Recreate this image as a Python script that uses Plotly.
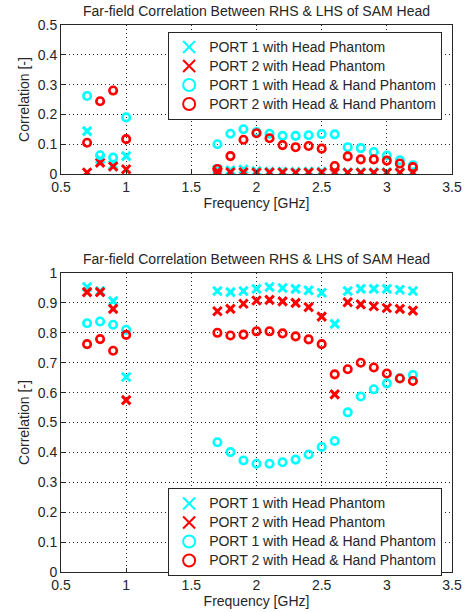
import plotly.graph_objects as go

freq = [0.7, 0.8, 0.9, 1.0, 1.7, 1.8, 1.9, 2.0, 2.1, 2.2, 2.3, 2.4, 2.5, 2.6, 2.7, 2.8, 2.9, 3.0, 3.1, 3.2]

# Top subplot (weak correlation values)
top_p1_head = [0.144, 0.050, 0.030, 0.060, 0.015, 0.012, 0.015, 0.010, 0.008, 0.008, 0.007, 0.008, 0.008, 0.008, 0.006, 0.006, 0.006, 0.006, 0.006, 0.006]
top_p2_head = [0.005, 0.038, 0.025, 0.016, 0.008, 0.006, 0.006, 0.005, 0.005, 0.005, 0.004, 0.005, 0.005, 0.004, 0.004, 0.004, 0.004, 0.004, 0.004, 0.004]
top_p1_hand = [0.262, 0.063, 0.055, 0.190, 0.100, 0.135, 0.150, 0.141, 0.135, 0.128, 0.128, 0.130, 0.134, 0.133, 0.090, 0.087, 0.074, 0.062, 0.046, 0.029]
top_p2_hand = [0.105, 0.244, 0.280, 0.117, 0.017, 0.060, 0.115, 0.137, 0.120, 0.097, 0.090, 0.094, 0.085, 0.027, 0.059, 0.049, 0.049, 0.045, 0.035, 0.023]

# Bottom subplot
bot_p1_head = [0.953, 0.940, 0.906, 0.652, 0.940, 0.936, 0.940, 0.947, 0.953, 0.950, 0.947, 0.942, 0.934, 0.830, 0.940, 0.947, 0.947, 0.947, 0.944, 0.940]
bot_p2_head = [0.936, 0.936, 0.880, 0.575, 0.872, 0.880, 0.897, 0.908, 0.910, 0.905, 0.900, 0.886, 0.854, 0.594, 0.902, 0.895, 0.889, 0.883, 0.880, 0.874]
bot_p1_hand = [0.832, 0.838, 0.827, 0.810, 0.434, 0.401, 0.373, 0.362, 0.362, 0.367, 0.376, 0.393, 0.418, 0.438, 0.534, 0.587, 0.611, 0.631, 0.648, 0.659]
bot_p2_hand = [0.762, 0.779, 0.740, 0.793, 0.800, 0.791, 0.794, 0.805, 0.805, 0.798, 0.788, 0.778, 0.762, 0.661, 0.678, 0.700, 0.684, 0.664, 0.647, 0.639]

names = ["PORT 1 with Head Phantom", "PORT 2 with Head Phantom",
         "PORT 1 with Head & Hand Phantom", "PORT 2 with Head & Hand Phantom"]
title_text = "Far-field Correlation Between RHS & LHS of SAM Head"
x_ticks = [0.5, 1, 1.5, 2, 2.5, 3, 3.5]
x_tick_labels = ["0.5", "1", "1.5", "2", "2.5", "3", "3.5"]
top_y_ticks = [0, 0.1, 0.2, 0.3, 0.4, 0.5]
top_y_labels = ["0", "0.1", "0.2", "0.3", "0.4", "0.5"]
bot_y_ticks = [0, 0.1, 0.2, 0.3, 0.4, 0.5, 0.6, 0.7, 0.8, 0.9, 1.0]
bot_y_labels = ["0", "0.1", "0.2", "0.3", "0.4", "0.5", "0.6", "0.7", "0.8", "0.9", "1"]

CYAN = "rgb(0,255,255)"
RED = "rgb(255,0,0)"
styles = [("x-thin", CYAN, 8.5), ("x-thin", RED, 8.5), ("circle-open", CYAN, 7.5), ("circle-open", RED, 7.5)]

fig = go.Figure()
for data, xa, ya, lg in [([top_p1_head, top_p2_head, top_p1_hand, top_p2_hand], "x", "y", "legend"),
                         ([bot_p1_head, bot_p2_head, bot_p1_hand, bot_p2_hand], "x2", "y2", "legend2")]:
    for vals, name, (sym, col, sz) in zip(data, names, styles):
        fig.add_trace(go.Scatter(
            x=freq, y=vals, mode="markers",
            name='<span style="font-size:14px">' + name + '</span>',
            xaxis=xa, yaxis=ya, legend=lg,
            marker=dict(symbol=sym, size=sz, color=col,
                        line=dict(color=col, width=3 if sym == "x-thin" else 2.6)),
        ))

TXT = "#262626"
FS = 14
font = dict(family="Liberation Sans, Arial, sans-serif", size=FS, color=TXT)
axis_common = dict(showline=True, mirror=True, linecolor=TXT, linewidth=1,
                   showgrid=True, gridcolor=TXT, griddash="1px,3px", gridwidth=1,
                   ticks="inside", ticklen=4, tickcolor=TXT, zeroline=False,
                   automargin=False, tickfont=dict(size=FS))

fig.update_layout(
    width=466, height=612,
    margin=dict(l=61, r=14, t=25, b=40),
    paper_bgcolor="white", plot_bgcolor="white",
    font=font,
    showlegend=True,
    xaxis=dict(domain=[0, 1], anchor="y", range=[0.5, 3.5], tickvals=x_ticks, ticktext=x_tick_labels,
               title=dict(text="Frequency [GHz]", standoff=0, font=dict(size=FS)), **axis_common),
    yaxis=dict(domain=[0.7276, 1], anchor="x", range=[0, 0.5], tickvals=top_y_ticks, ticktext=top_y_labels,
               title=dict(text="Correlation [-]", standoff=4, font=dict(size=FS)), **axis_common),
    xaxis2=dict(domain=[0, 1], anchor="y2", range=[0.5, 3.5], tickvals=x_ticks, ticktext=x_tick_labels,
                title=dict(text="Frequency [GHz]", standoff=0, font=dict(size=FS)), **axis_common),
    yaxis2=dict(domain=[0, 0.5466], anchor="x2", range=[0, 1], tickvals=bot_y_ticks, ticktext=bot_y_labels,
                title=dict(text="Correlation [-]", standoff=4, font=dict(size=FS)), **axis_common),
    legend=dict(x=0.274, y=0.988, xanchor="left", yanchor="top", bgcolor="white",
                bordercolor=TXT, borderwidth=1, font=dict(size=12), tracegroupgap=0,
                itemsizing="constant"),
    legend2=dict(x=0.274, y=0.1536, xanchor="left", yanchor="top", bgcolor="white",
                 bordercolor=TXT, borderwidth=1, font=dict(size=12), tracegroupgap=0,
                 itemsizing="constant"),
    annotations=[
        dict(text=title_text, x=0.5, y=1.0, xref="paper", yref="paper", xanchor="center",
             yanchor="bottom", yshift=4, showarrow=False, font=dict(size=FS)),
        dict(text=title_text, x=0.5, y=0.5466, xref="paper", yref="paper", xanchor="center",
             yanchor="bottom", yshift=4, showarrow=False, font=dict(size=FS)),
    ],
)

fig.write_html("out.html", config={"displayModeBar": False},
               post_script="document.body.style.margin='0';document.body.style.overflow='hidden';")
